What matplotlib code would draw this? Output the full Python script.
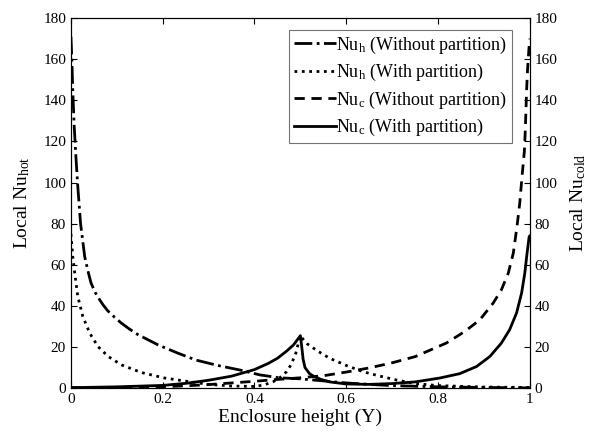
import numpy as np
import matplotlib
matplotlib.use("Agg")
import matplotlib.pyplot as plt

# ================================================================
# DATA
# ================================================================

# Nu_h without partition (dash-dot)
y_nuh_wo = [0, 0.002, 0.004, 0.007, 0.011, 0.0153, 0.021, 0.030, 0.037, 0.044,
            0.053, 0.0625, 0.07, 0.0806, 0.095, 0.110, 0.127, 0.146, 0.168, 0.190,
            0.233, 0.273, 0.32, 0.368, 0.412, 0.455, 0.5, 0.55, 0.6, 0.65,
            0.7, 0.8, 0.9, 1.0]
nu_nuh_wo = [171, 160, 145, 128, 112, 97, 80, 64, 57, 51,
             46.5, 43, 40.5, 37.5, 34.5, 31.6, 28.8, 26, 23.5, 21,
             17, 13.6, 11, 8.8, 6.4, 5.0, 4.5, 3.5, 2.5, 1.8,
             1.2, 0.6, 0.3, 0.1]

# Nu_h with partition (dotted)
y_nuh_w = [0, 0.004, 0.0094, 0.015, 0.026, 0.041, 0.059, 0.081, 0.110, 0.153,
           0.204, 0.255, 0.3, 0.35, 0.4, 0.42, 0.44, 0.455, 0.47, 0.48,
           0.49, 0.497, 0.5, 0.505, 0.515, 0.528, 0.545, 0.564, 0.6, 0.636,
           0.67, 0.71, 0.75, 0.8, 0.9, 1.0]
nu_nuh_w = [75, 64, 54, 44.5, 34.8, 26.7, 20.2, 15.4, 11.3, 7.6,
            4.9, 3.2, 1.8, 1.0, 0.8, 1.5, 3.0, 5.0, 8.0, 11.5,
            17, 23, 25.5, 24, 21.5, 19.5, 17, 14.5, 11, 8,
            6, 3.9, 2.2, 1.2, 0.5, 0.3]

# Nu_c without partition (dashed)
y_nuc_wo = [0, 0.1, 0.2, 0.25, 0.3, 0.35, 0.4, 0.45, 0.5, 0.55,
            0.6, 0.65, 0.7, 0.75, 0.818, 0.858, 0.891, 0.920, 0.938, 0.953,
            0.964, 0.972, 0.978, 0.983, 0.988, 0.99, 0.993, 0.995, 0.998, 1.0]
nu_nuc_wo = [0.2, 0.3, 0.7, 1.1, 1.7, 2.5, 3.3, 4.2, 5.0, 6.0,
             7.8, 9.8, 12.3, 15.3, 21.9, 27.5, 33.2, 41.3, 47.8, 55.9,
             65.7, 78.6, 90, 103, 115, 125, 145, 155, 165, 170]

# Nu_c with partition (solid)
y_nuc_w = [0, 0.1, 0.2, 0.25, 0.3, 0.35, 0.4, 0.43, 0.45, 0.47,
           0.485, 0.495, 0.5, 0.503, 0.506, 0.51, 0.515, 0.52, 0.53, 0.545,
           0.564, 0.6, 0.65, 0.7, 0.75, 0.804, 0.847, 0.884, 0.913, 0.938,
           0.956, 0.971, 0.982, 0.989, 0.994, 0.9985, 1.0]
nu_nuc_w = [0.2, 0.6, 1.3, 2.3, 3.8, 5.8, 9.0, 12, 14.5, 18,
            21, 24, 25.5, 20, 14, 10, 8.5, 7, 5.6, 4.2,
            3.0, 2.0, 1.8, 2.2, 3.0, 4.9, 7, 10.5, 15.4, 21.9,
            28.4, 36.5, 46.2, 55.9, 65.7, 73.7, 74]

labels = [r"Nu$_\mathrm{h}$ (Without partition)",
          r"Nu$_\mathrm{h}$ (With partition)",
          r"Nu$_\mathrm{c}$ (Without partition)",
          r"Nu$_\mathrm{c}$ (With partition)"]

# ================================================================
# STYLE
# ================================================================

plt.rcParams["font.family"] = ["Liberation Serif", "DejaVu Serif"]
plt.rcParams["mathtext.fontset"] = "custom"
plt.rcParams["mathtext.rm"] = "Liberation Serif"
plt.rcParams["mathtext.it"] = "Liberation Serif:italic"

fig = plt.figure(figsize=(5.96, 4.41), dpi=100)
ax = fig.add_axes([0.119, 0.120, 0.770, 0.839])
ax2 = ax.twinx()

LW = 2.0
l1, = ax.plot(y_nuh_wo, nu_nuh_wo, color="black", lw=LW, linestyle="-.")
l2, = ax.plot(y_nuh_w, nu_nuh_w, color="black", lw=LW, linestyle=":")
l3, = ax2.plot(y_nuc_wo, nu_nuc_wo, color="black", lw=LW, linestyle=(0, (3.7, 2.4)))
l4, = ax2.plot(y_nuc_w, nu_nuc_w, color="black", lw=LW, linestyle="-")

for a in (ax, ax2):
    a.set_xlim(0, 1)
    a.set_ylim(0, 180)
    a.set_yticks(np.arange(0, 181, 20))
    a.tick_params(direction="in", length=4, labelsize=11)

ax.set_xticks([0, 0.2, 0.4, 0.6, 0.8, 1])
ax.set_xticklabels(["0", "0.2", "0.4", "0.6", "0.8", "1"])
ax.tick_params(top=True)

ax.set_xlabel("Enclosure height (Y)", fontsize=14, labelpad=2)
ax.set_ylabel(r"Local Nu$_\mathrm{hot}$", fontsize=14, labelpad=8)
ax2.set_ylabel(r"Local Nu$_\mathrm{cold}$", fontsize=14, labelpad=8)

leg = ax2.legend([l1, l2, l3, l4], labels, loc="upper right",
                 bbox_to_anchor=(0.961, 0.968), fontsize=13,
                 fancybox=False, edgecolor="0.45", framealpha=1,
                 handlelength=2.35, handletextpad=0.0, labelspacing=0.36,
                 borderpad=0.25, borderaxespad=0)
leg.get_frame().set_linewidth(0.8)

fig.savefig("out.png", dpi=100)
